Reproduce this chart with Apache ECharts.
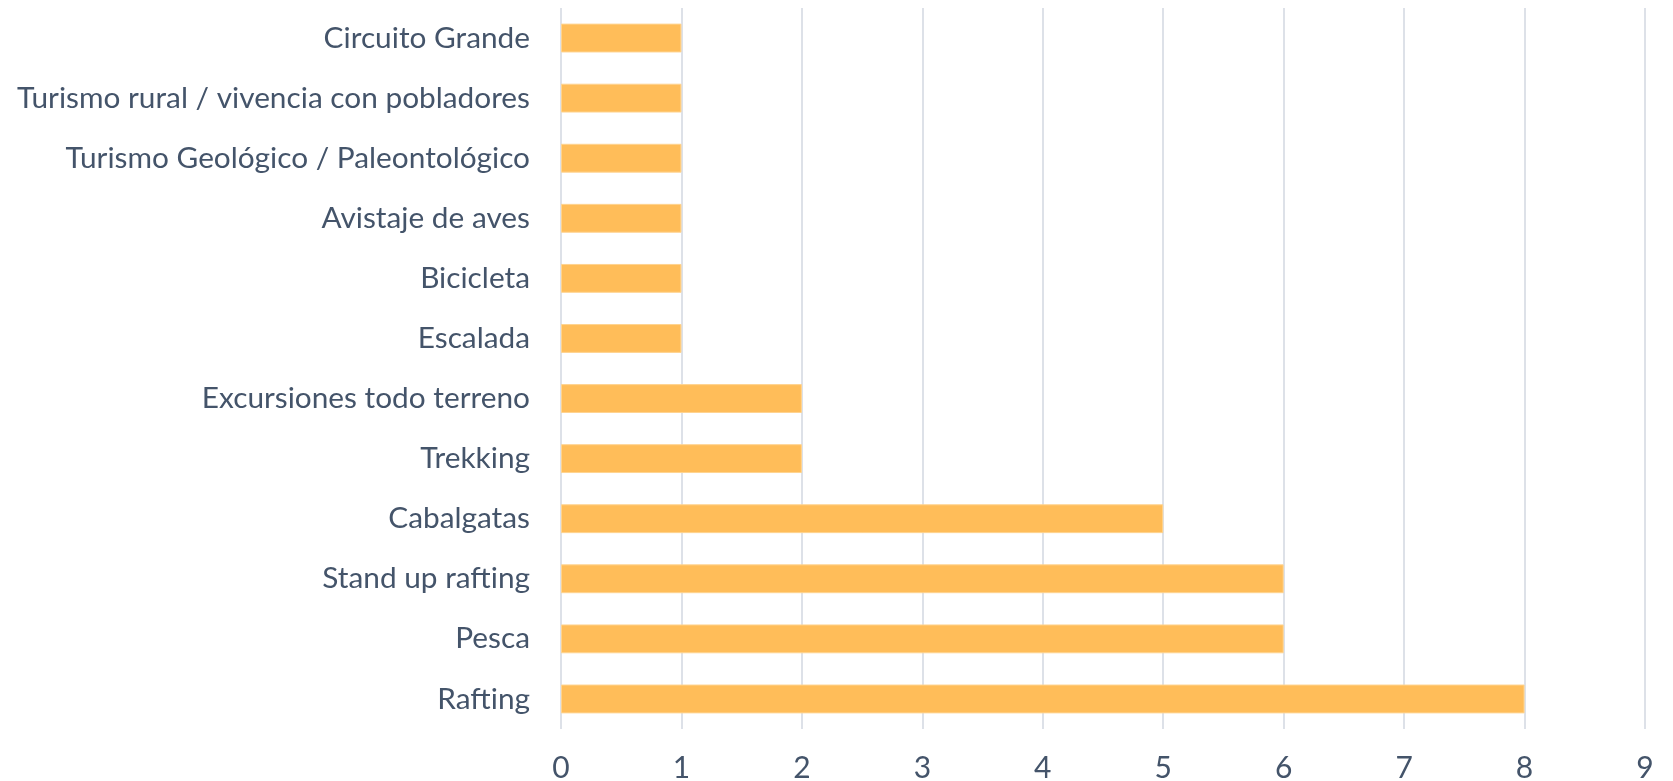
<!DOCTYPE html>
<html><head><meta charset="utf-8">
<script src="https://cdn.jsdelivr.net/npm/echarts@6/dist/echarts.min.js"></script>
<style>html,body{margin:0;padding:0;background:#fff}#c{width:1673px;height:781px}</style>
</head><body><div id="c"></div>
<script>
const categories = ["Rafting","Pesca","Stand up rafting","Cabalgatas","Trekking","Excursiones todo terreno","Escalada","Bicicleta","Avistaje de aves","Turismo Geológico / Paleontológico","Turismo rural / vivencia con pobladores","Circuito Grande"];
const values = [8,6,6,5,2,2,1,1,1,1,1,1];
const xTicks = [0,1,2,3,4,5,6,7,8,9];
const chart = echarts.init(document.getElementById('c'), null, {renderer:'canvas'});
const font = 'Lato, "Open Sans", sans-serif';
chart.setOption({
  animation:false,
  grid:{left:561,right:28,top:8,bottom:52,containLabel:false,outerBoundsMode:'none'},
  xAxis:{type:'value',min:xTicks[0],max:xTicks[xTicks.length-1],interval:1,
    axisLine:{show:false},axisTick:{show:false},
    splitLine:{show:true,lineStyle:{color:'#DDE1E8',width:2}},
    axisLabel:{color:'#44546A',fontSize:30,fontFamily:font,margin:24}},
  yAxis:{type:'category',data:categories,
    axisLine:{show:false},axisTick:{show:false},
    axisLabel:{color:'#44546A',fontSize:29.8,fontFamily:font,margin:31}},
  series:[{type:'bar',data:values,barCategoryGap:'52%',
    itemStyle:{color:'#FFBD59',borderColor:'#FFD490',borderWidth:1}}]
});
</script></body></html>
